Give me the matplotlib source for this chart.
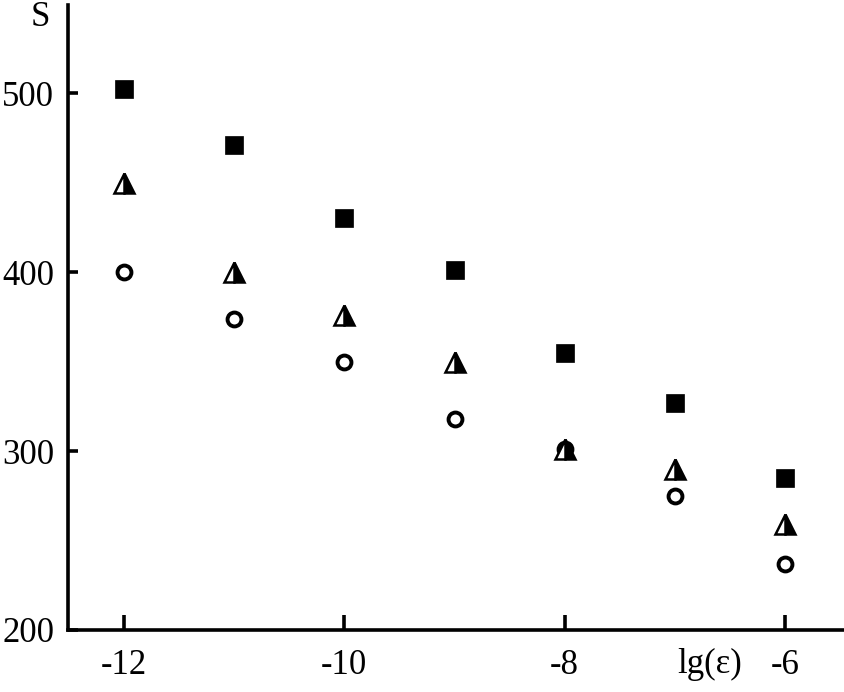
import matplotlib
matplotlib.use("Agg")
import matplotlib.pyplot as plt

x = [-12, -11, -10, -9, -8, -7, -6]
s_square = [502, 471, 430, 401, 355, 327, 285]
s_triangle = [450, 400, 376, 350, 301, 290, 259]
s_circle = [400, 374, 350, 318, 301, 275, 237]
xticks = [-12, -10, -8, -6]
yticks = [200, 300, 400, 500]

plt.rcParams['font.family'] = ['Liberation Serif', 'DejaVu Serif']

fig = plt.figure(figsize=(8.44, 6.92), dpi=100)
ax = fig.add_axes([68/844, 62/692, (844-68)/844, (630-5)/692])

ax.plot(x, s_square, linestyle='none', marker='s', markersize=12.5,
        markerfacecolor='black', markeredgecolor='black', markeredgewidth=0.5)
ax.plot(x, s_circle, linestyle='none', marker='o', markersize=10,
        markerfacecolor='white', markeredgecolor='black', markeredgewidth=2.8)
ax.plot(x, s_triangle, linestyle='none', marker='^', markersize=14,
        fillstyle='right', markerfacecolor='black', markerfacecoloralt='white',
        markeredgecolor='black', markeredgewidth=1.8)

ax.set_xlim(-12.509, -5.464)
ax.set_ylim(200, 549.2)
ax.set_xticks(xticks)
ax.set_xticklabels([str(v) for v in xticks])
ax.set_yticks(yticks)
ax.set_yticklabels([str(v) for v in yticks])

for side in ['top', 'right']:
    ax.spines[side].set_visible(False)
for side in ['left', 'bottom']:
    ax.spines[side].set_linewidth(2.6)

ax.tick_params(axis='x', direction='in', length=11, width=2.6, labelsize=25, pad=14)
ax.tick_params(axis='y', direction='in', length=7, width=2.6, labelsize=25, pad=10)

fig.text(40/844, 1 - 17/692, 'S', fontsize=25, ha='center', va='center')
fig.text(710/844, 1 - 664/692, 'lg(ε)', fontsize=25, ha='center', va='center')

fig.savefig('out.png', dpi=100)
